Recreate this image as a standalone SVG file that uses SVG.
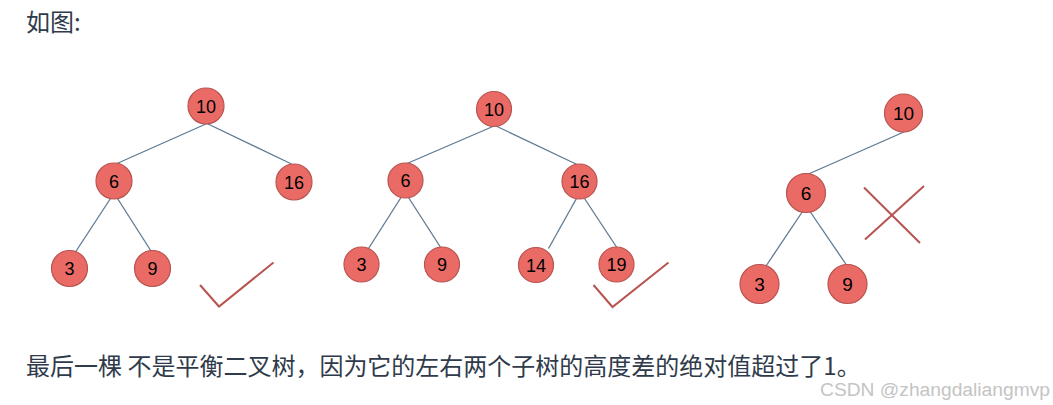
<svg xmlns="http://www.w3.org/2000/svg" width="1053" height="405" viewBox="0 0 1053 405">
<style>
.n circle{fill:#ea6b66;stroke:#b85450;stroke-width:1.2}
.n text{font-family:"Liberation Sans",Arial,sans-serif;font-size:18px;fill:#000;text-anchor:middle}
.n3 text{font-size:19px}
.e line{stroke:#5d7a94;stroke-width:1.3}
.mark{stroke:#b85450;stroke-width:2;fill:none}
.cap{font-family:"Noto Sans CJK SC","Noto Sans",sans-serif;font-size:24px;fill:#2f3b4b}
.wm{font-family:"Liberation Sans",Arial,sans-serif;font-size:18px;fill:#c4c4c4}
</style>
<rect width="1053" height="405" fill="#fff"/>
<text class="cap" x="26" y="31">如图:</text>

<g id="connectors" class="e">
<line x1="207" y1="123.5" x2="117" y2="163.5"/>
<line x1="207" y1="123.5" x2="291.5" y2="164"/>
<line x1="110.5" y1="198.5" x2="75.5" y2="252"/>
<line x1="117.5" y1="198.5" x2="151" y2="251"/>
<line x1="494" y1="126" x2="407" y2="163.5"/>
<line x1="496" y1="126" x2="577" y2="164.5"/>
<line x1="401" y1="197.5" x2="368.5" y2="248.5"/>
<line x1="408.5" y1="197.5" x2="441" y2="248"/>
<line x1="576.5" y1="198.5" x2="548.5" y2="248.5"/>
<line x1="584.5" y1="198.5" x2="616.5" y2="247"/>
<line x1="905" y1="131.5" x2="808.5" y2="174"/>
<line x1="802.5" y1="211.5" x2="766" y2="266"/>
<line x1="810" y1="211.5" x2="846.5" y2="265"/>
</g>

<g id="t1-10" class="n"><circle cx="206" cy="106" r="18"/><text x="206" y="112.5">10</text></g>
<g id="t1-6" class="n"><circle cx="114" cy="181" r="18"/><text x="114" y="187.5">6</text></g>
<g id="t1-16" class="n"><circle cx="294" cy="182" r="18"/><text x="294" y="188.5">16</text></g>
<g id="t1-3" class="n"><circle cx="69.5" cy="268.5" r="18"/><text x="69.5" y="275">3</text></g>
<g id="t1-9" class="n"><circle cx="152.5" cy="268.5" r="18"/><text x="152.5" y="275">9</text></g>

<g id="t2-10" class="n"><circle cx="494" cy="109" r="17.5"/><text x="494" y="115.5">10</text></g>
<g id="t2-6" class="n"><circle cx="405.5" cy="180.5" r="17.5"/><text x="405.5" y="187">6</text></g>
<g id="t2-16" class="n"><circle cx="579.5" cy="181.5" r="17.5"/><text x="579.5" y="188">16</text></g>
<g id="t2-3" class="n"><circle cx="361.5" cy="264.5" r="17.5"/><text x="361.5" y="271">3</text></g>
<g id="t2-9" class="n"><circle cx="442" cy="264.5" r="17.5"/><text x="442" y="271">9</text></g>
<g id="t2-14" class="n"><circle cx="536" cy="265" r="17.5"/><text x="536" y="271.5">14</text></g>
<g id="t2-19" class="n"><circle cx="616.5" cy="264.5" r="17.5"/><text x="616.5" y="271">19</text></g>

<g id="t3-10" class="n n3"><circle cx="903.5" cy="113" r="19"/><text x="903.5" y="119.8">10</text></g>
<g id="t3-6" class="n n3"><circle cx="806" cy="193" r="19.5"/><text x="806" y="199.8">6</text></g>
<g id="t3-3" class="n n3"><circle cx="759.5" cy="284" r="19.5"/><text x="759.5" y="290.8">3</text></g>
<g id="t3-9" class="n n3"><circle cx="847.5" cy="284" r="19.5"/><text x="847.5" y="290.8">9</text></g>

<g id="marks">
<polyline class="mark" points="200,285 219,306.5 273.5,262.5"/>
<polyline class="mark" points="593.5,285 612.5,307 668.5,262.5"/>
<line class="mark" x1="864" y1="187.5" x2="920" y2="243"/>
<line class="mark" x1="924" y1="186" x2="865" y2="239.5"/>
</g>

<text class="cap" x="26" y="375">最后一棵 不是平衡二叉树，因为它的左右两个子树的高度差的绝对值超过了1。</text>
<text class="wm" x="820" y="396" textLength="230" lengthAdjust="spacingAndGlyphs">CSDN @zhangdaliangmvp</text>
</svg>
